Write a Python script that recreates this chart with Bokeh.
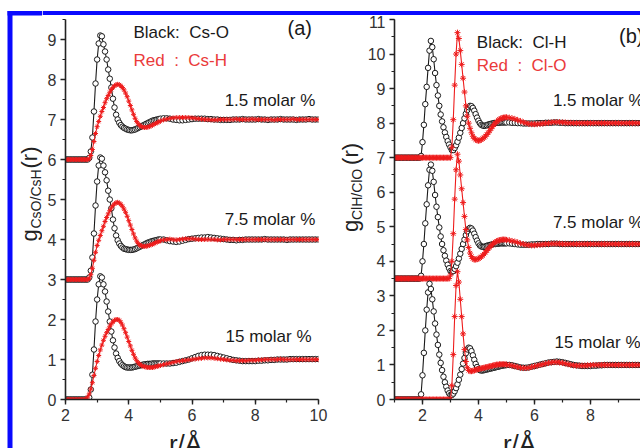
import math
import numpy as np
from bokeh.plotting import figure
from bokeh.layouts import row, column
from bokeh.models import Range1d, SingleIntervalTicker
from bokeh.core.properties import value
from bokeh.embed import file_html
from bokeh.resources import INLINE

FONT = "Liberation Sans"
RED = "#ee1c1c"
RED_TXT = "#ea3a3a"
BLACK = "#1a1a1a"
BLUE = "#0a0aff"

# sampling grids (r in Angstrom)
r_a = np.round(np.concatenate([np.arange(2.0, 5.0001, 0.05), np.arange(5.1, 10.0001, 0.1)]), 2)
r_b = np.round(np.concatenate([np.arange(1.0, 5.0001, 0.05), np.arange(5.1, 10.0001, 0.1)]), 2)

labels_conc = ["1.5 molar %", "7.5 molar %", "15 molar %"]
offsets_a = [6, 3, 0]
offsets_b = [7, 3.5, 0]

# ---------- panel (a): Cs-O (black) and Cs-H (red) ----------
cs_o_1p5 = [0, 0, 0, 0, 0, 0, 0, 0, 0, 0, 0, 0, 0, 0, 0,
            0.04, 0.2, 0.55, 1.2, 1.9, 2.5, 2.9, 3.1, 3.08, 2.88, 2.7, 2.5, 2.25, 2.02, 1.8,
            1.52, 1.3, 1.12, 1.0, 0.92, 0.86, 0.82, 0.79, 0.77, 0.75, 0.74, 0.73, 0.73, 0.74, 0.75,
            0.77, 0.79, 0.81, 0.83, 0.85, 0.87, 0.89, 0.91, 0.93, 0.95, 0.97, 0.98, 0.99, 1.0, 1.01,
            1.02,
            1.03, 1.03, 1.02, 1.0, 0.99, 0.98, 0.98, 0.99, 1.0, 1.01, 1.02, 1.02, 1.02, 1.02, 1.01,
            1.01, 1.0, 1.0, 0.99, 0.99, 0.99, 0.99, 1.0, 1.0, 1.0, 1.01, 1.0, 1.0, 1.0, 1.0,
            1.01, 1.0, 1.0, 0.99, 1.0, 1.0, 1.0, 1.01, 1.0, 1.0, 1.0, 1.0, 0.99, 1.0, 1.0,
            1.0, 1.01, 1.0, 1.0, 1.0]
cs_h_1p5 = [0, 0, 0, 0, 0, 0, 0, 0, 0, 0, 0, 0, 0, 0, 0,
            0.02, 0.1, 0.25, 0.45, 0.65, 0.82, 0.95, 1.08, 1.2, 1.3, 1.42, 1.52, 1.6, 1.68, 1.75,
            1.8, 1.84, 1.87, 1.88, 1.87, 1.84, 1.8, 1.74, 1.66, 1.57, 1.46, 1.35, 1.24, 1.13, 1.03,
            0.95, 0.89, 0.85, 0.82, 0.81, 0.8, 0.8, 0.81, 0.82, 0.84, 0.86, 0.88, 0.9, 0.92, 0.94,
            0.96,
            0.99, 1.01, 1.03, 1.04, 1.05, 1.05, 1.05, 1.05, 1.05, 1.04, 1.03, 1.02, 1.01, 1.0, 1.0,
            0.99, 0.99, 0.99, 1.0, 1.0, 1.0, 1.0, 1.0, 1.01, 1.0, 1.0, 1.0, 1.0, 1.01, 1.0,
            1.0, 1.0, 1.0, 1.0, 1.0, 0.99, 1.0, 1.0, 1.0, 1.0, 1.0, 1.01, 1.0, 1.0, 1.0,
            1.0, 1.0, 1.0, 1.0, 1.0]
cs_o_7p5 = [0, 0, 0, 0, 0, 0, 0, 0, 0, 0, 0, 0, 0, 0, 0,
            0.05, 0.22, 0.55, 1.15, 1.85, 2.45, 2.85, 3.05, 3.02, 2.85, 2.68, 2.48, 2.22, 2.0, 1.78,
            1.5, 1.28, 1.1, 0.98, 0.9, 0.84, 0.8, 0.77, 0.76, 0.75, 0.74, 0.74, 0.74, 0.75, 0.76,
            0.78, 0.8, 0.82, 0.84, 0.86, 0.88, 0.9, 0.92, 0.93, 0.95, 0.96, 0.97, 0.98, 0.99, 1.0,
            1.0,
            1.0, 0.98, 0.96, 0.95, 0.94, 0.95, 0.97, 0.99, 1.01, 1.02, 1.03, 1.04, 1.05, 1.05, 1.06,
            1.05, 1.04, 1.03, 1.02, 1.01, 1.0, 0.99, 0.99, 0.98, 0.99, 0.99, 1.0, 1.0, 1.0, 1.0,
            1.0, 1.0, 1.01, 1.0, 1.0, 1.0, 1.0, 1.0, 1.0, 0.99, 1.0, 1.0, 1.0, 1.0, 1.0,
            1.0, 1.0, 1.0, 1.0, 1.0]
cs_h_7p5 = [0, 0, 0, 0, 0, 0, 0, 0, 0, 0, 0, 0, 0, 0, 0,
            0.03, 0.12, 0.28, 0.48, 0.68, 0.85, 0.98, 1.1, 1.22, 1.33, 1.45, 1.55, 1.64, 1.72, 1.79,
            1.85, 1.89, 1.92, 1.93, 1.91, 1.88, 1.83, 1.76, 1.68, 1.58, 1.47, 1.36, 1.25, 1.14, 1.04,
            0.96, 0.9, 0.86, 0.84, 0.83, 0.83, 0.83, 0.84, 0.85, 0.87, 0.88, 0.9, 0.92, 0.94, 0.95,
            0.97,
            0.99, 1.0, 1.01, 1.0, 0.99, 1.0, 1.01, 1.02, 1.02, 1.02, 1.01, 1.0, 1.0, 1.0, 1.0,
            1.0, 1.0, 0.99, 0.99, 1.0, 1.0, 1.0, 1.0, 1.0, 1.0, 1.0, 1.0, 1.0, 1.0, 1.0,
            1.0, 1.0, 1.0, 1.0, 1.0, 1.0, 1.0, 1.0, 1.0, 1.0, 1.0, 1.0, 1.0, 1.0, 1.0,
            1.0, 1.0, 1.0, 1.0, 1.0]
cs_o_15 = [0, 0, 0, 0, 0, 0, 0, 0, 0, 0, 0, 0, 0, 0, 0,
           0.05, 0.25, 0.62, 1.25, 1.95, 2.5, 2.88, 3.08, 3.05, 2.88, 2.7, 2.45, 2.2, 1.95, 1.7,
           1.48, 1.3, 1.15, 1.04, 0.96, 0.9, 0.86, 0.83, 0.81, 0.8, 0.8, 0.8, 0.8, 0.81, 0.82,
           0.83, 0.84, 0.85, 0.86, 0.87, 0.88, 0.88, 0.89, 0.89, 0.89, 0.9, 0.9, 0.9, 0.9, 0.9,
           0.9,
           0.9, 0.9, 0.9, 0.91, 0.92, 0.94, 0.96, 0.98, 1.0, 1.03, 1.06, 1.09, 1.11, 1.12, 1.12,
           1.12, 1.11, 1.09, 1.07, 1.05, 1.03, 1.01, 0.99, 0.98, 0.97, 0.96, 0.96, 0.96, 0.96, 0.96,
           0.97, 0.97, 0.98, 0.98, 0.99, 0.99, 1.0, 1.0, 1.0, 1.0, 1.01, 1.01, 1.01, 1.01, 1.01,
           1.01, 1.01, 1.01, 1.01, 1.01]
cs_h_15 = [0, 0, 0, 0, 0, 0, 0, 0, 0, 0, 0, 0, 0,
           0.02, 0.06, 0.14, 0.26, 0.42, 0.6, 0.78, 0.95, 1.1, 1.24, 1.36, 1.48, 1.58, 1.67, 1.75,
           1.83, 1.89, 1.94, 1.98, 2.0, 2.0, 1.98, 1.93, 1.86, 1.77, 1.67, 1.56, 1.45, 1.34, 1.23,
           1.13, 1.04, 0.97, 0.92, 0.88, 0.85, 0.83, 0.82, 0.81, 0.8, 0.8, 0.8, 0.8, 0.81, 0.82,
           0.83, 0.84, 0.85,
           0.87, 0.89, 0.91, 0.93, 0.95, 0.96, 0.97, 0.98, 0.99, 1.0, 1.01, 1.02, 1.03, 1.04, 1.04,
           1.04, 1.03, 1.02, 1.01, 1.0, 0.99, 0.98, 0.98, 0.97, 0.97, 0.97, 0.97, 0.98, 0.98, 0.98,
           0.99, 0.99, 1.0, 1.0, 1.0, 1.0, 1.0, 1.01, 1.0, 1.0, 1.0, 1.0, 1.0, 1.0, 1.0,
           1.0, 1.0, 1.0, 1.0, 1.0]

# ---------- panel (b): Cl-H (black) and Cl-O (red) ----------
cl_h_1p5 = [0, 0, 0, 0, 0, 0, 0, 0, 0, 0, 0, 0, 0, 0, 0, 0, 0, 0, 0,
            0.05, 0.45, 0.95, 1.55, 2.05, 2.6, 3.1, 3.38, 3.2, 2.85, 2.45, 2.1, 1.8, 1.5, 1.25,
            1.05, 0.88, 0.73, 0.6, 0.48, 0.38, 0.3, 0.22, 0.22, 0.28, 0.36, 0.46, 0.58, 0.72, 0.86,
            1.0, 1.14, 1.27, 1.38, 1.46, 1.5, 1.49, 1.44, 1.36, 1.26, 1.16, 1.07, 1.0, 0.95, 0.93,
            0.92, 0.93, 0.94, 0.96, 0.97, 0.98, 0.99, 1.0, 1.0, 1.01, 1.01, 1.01, 1.02, 1.02, 1.02,
            1.02, 1.02,
            1.02, 1.01, 1.01, 1.0, 1.0, 0.99, 0.99, 0.99, 0.99, 0.99, 1.0, 1.0, 1.0, 1.01, 1.01,
            1.01, 1.02, 1.02, 1.01, 1.01, 1.0, 1.0, 1.0, 1.0, 1.0, 1.0, 1.0, 1.0, 1.0, 1.0,
            1.0, 1.0, 1.0, 1.0, 1.0, 1.0, 1.0, 1.0, 1.0, 1.0, 1.0, 1.0, 1.0, 1.0, 1.0,
            1.0, 1.0, 1.0, 1.0, 1.0]
cl_o_1p5 = [0, 0, 0, 0, 0, 0, 0, 0, 0, 0, 0, 0, 0, 0, 0, 0, 0, 0, 0, 0,
            0, 0, 0, 0, 0, 0, 0, 0, 0, 0, 0, 0, 0, 0, 0, 0, 0, 0, 0, 0, 0,
            0.3, 1.1, 2.1, 3.0, 3.62, 3.45, 3.1, 2.7, 2.3, 1.9, 1.5, 1.2, 1.0, 0.85, 0.72,
            0.62, 0.56, 0.52, 0.5, 0.49, 0.5, 0.52, 0.55, 0.58, 0.62, 0.67, 0.72, 0.78, 0.84, 0.9,
            0.95, 1.0, 1.04, 1.08, 1.11, 1.13, 1.15, 1.16, 1.17, 1.17,
            1.16, 1.14, 1.12, 1.09, 1.06, 1.03, 1.0, 0.98, 0.97, 0.97, 0.97, 0.98, 0.99, 1.0, 1.01,
            1.02, 1.03, 1.03, 1.03, 1.02, 1.02, 1.01, 1.01, 1.0, 1.0, 1.0, 1.0, 1.0, 1.0, 1.0,
            1.0, 1.0, 1.0, 1.0, 1.0, 1.0, 1.0, 1.0, 1.0, 1.0, 1.0, 1.0, 1.0, 1.0, 1.0,
            1.0, 1.0, 1.0, 1.0, 1.0]
cl_h_7p5 = [0, 0, 0, 0, 0, 0, 0, 0, 0, 0, 0, 0, 0, 0, 0, 0, 0, 0, 0,
            0.08, 0.5, 1.0, 1.6, 2.15, 2.7, 3.15, 3.3, 3.12, 2.8, 2.42, 2.08, 1.78, 1.48, 1.22,
            1.0, 0.82, 0.66, 0.52, 0.4, 0.3, 0.22, 0.2, 0.22, 0.28, 0.36, 0.46, 0.58, 0.72, 0.86,
            1.0, 1.13, 1.26, 1.37, 1.44, 1.47, 1.45, 1.39, 1.3, 1.2, 1.1, 1.02, 0.96, 0.93, 0.92,
            0.92, 0.93, 0.95, 0.96, 0.97, 0.98, 0.99, 1.0, 1.0, 1.01, 1.01, 1.02, 1.02, 1.02, 1.02,
            1.02, 1.02,
            1.02, 1.01, 1.0, 0.99, 0.98, 0.98, 0.98, 0.98, 0.99, 0.99, 1.0, 1.0, 1.0, 1.0, 1.0,
            1.01, 1.01, 1.01, 1.0, 1.0, 1.0, 1.0, 1.0, 1.0, 1.0, 1.0, 1.0, 1.0, 1.0, 1.0,
            1.0, 1.0, 1.0, 1.0, 1.0, 1.0, 1.0, 1.0, 1.0, 1.0, 1.0, 1.0, 1.0, 1.0, 1.0,
            1.0, 1.0, 1.0, 1.0, 1.0]
cl_o_7p5 = [0, 0, 0, 0, 0, 0, 0, 0, 0, 0, 0, 0, 0, 0, 0, 0, 0, 0, 0, 0,
            0, 0, 0, 0, 0, 0, 0, 0, 0, 0, 0, 0, 0, 0, 0, 0, 0, 0, 0, 0,
            0.1, 0.5, 1.3, 2.3, 3.15, 3.6, 3.4, 3.0, 2.6, 2.2, 1.8, 1.42, 1.12, 0.9, 0.74,
            0.64, 0.58, 0.55, 0.55, 0.56, 0.58, 0.6, 0.63, 0.67, 0.71, 0.76, 0.81, 0.86, 0.91, 0.95,
            0.99, 1.03, 1.06, 1.08, 1.1, 1.11, 1.12, 1.13, 1.13, 1.13, 1.12,
            1.11, 1.09, 1.07, 1.05, 1.02, 1.0, 0.98, 0.97, 0.96, 0.96, 0.97, 0.98, 0.99, 1.0, 1.0,
            1.01, 1.01, 1.01, 1.01, 1.0, 1.0, 1.0, 1.0, 1.0, 1.0, 1.0, 1.0, 1.0, 1.0, 1.0,
            1.0, 1.0, 1.0, 1.0, 1.0, 1.0, 1.0, 1.0, 1.0, 1.0, 1.0, 1.0, 1.0, 1.0, 1.0,
            1.0, 1.0, 1.0, 1.0, 1.0]
cl_h_15 = [0, 0, 0, 0, 0, 0, 0, 0, 0, 0, 0, 0, 0, 0, 0, 0, 0, 0, 0,
           0.15, 0.7, 1.35, 2.0, 2.6, 3.1, 3.35, 3.2, 2.9, 2.55, 2.2, 1.88, 1.58, 1.3, 1.06,
           0.85, 0.66, 0.5, 0.37, 0.26, 0.18, 0.13, 0.13, 0.17, 0.24, 0.33, 0.44, 0.57, 0.72, 0.88,
           1.04, 1.2, 1.34, 1.45, 1.5, 1.48, 1.4, 1.28, 1.15, 1.03, 0.94, 0.88, 0.85, 0.84, 0.84,
           0.85, 0.86, 0.87, 0.88, 0.89, 0.9, 0.91, 0.92, 0.93, 0.94, 0.95, 0.96, 0.97, 0.98, 0.99,
           0.99, 1.0,
           1.0, 0.99, 0.97, 0.95, 0.93, 0.92, 0.92, 0.93, 0.95, 0.97, 0.99, 1.01, 1.03, 1.05, 1.07,
           1.08, 1.09, 1.1, 1.09, 1.08, 1.06, 1.04, 1.02, 1.0, 0.99, 0.98, 0.97, 0.97, 0.97, 0.97,
           0.98, 0.98, 0.99, 0.99, 1.0, 1.0, 1.0, 1.0, 1.0, 1.0, 1.0, 1.0, 1.0, 1.0, 1.0,
           1.0, 1.0, 1.0, 1.0, 1.0]
cl_o_15 = [0, 0, 0, 0, 0, 0, 0, 0, 0, 0, 0, 0, 0, 0, 0, 0, 0, 0, 0, 0,
           0, 0, 0, 0, 0, 0, 0, 0, 0, 0, 0, 0, 0, 0, 0, 0, 0, 0, 0, 0, 0,
           0.4, 1.3, 2.4, 3.3, 3.7, 3.4, 2.9, 2.4, 1.9, 1.45, 1.1, 0.92, 0.84, 0.82, 0.82,
           0.83, 0.84, 0.86, 0.87, 0.88, 0.89, 0.9, 0.91, 0.92, 0.93, 0.94, 0.95, 0.96, 0.97, 0.98,
           0.99, 1.0, 1.01, 1.01, 1.02, 1.02, 1.02, 1.02, 1.02, 1.01,
           1.0, 0.98, 0.96, 0.94, 0.92, 0.91, 0.91, 0.92, 0.94, 0.96, 0.98, 1.0, 1.02, 1.04, 1.06,
           1.07, 1.08, 1.08, 1.07, 1.06, 1.04, 1.02, 1.0, 0.99, 0.98, 0.98, 0.98, 0.98, 0.99, 0.99,
           1.0, 1.0, 1.0, 1.0, 1.0, 1.0, 1.0, 1.0, 1.0, 1.0, 1.0, 1.0, 1.0, 1.0, 1.0,
           1.0, 1.0, 1.0, 1.0, 1.0]

black_a = [cs_o_1p5, cs_o_7p5, cs_o_15]
red_a = [cs_h_1p5, cs_h_7p5, cs_h_15]
black_b = [cl_h_1p5, cl_h_7p5, cl_h_15]
red_b = [cl_o_1p5, cl_o_7p5, cl_o_15]

ROW_H = 413  # height of the plotting row (page y 15 .. 428)
LEFT_W = 42  # width of the left strip (blue line + y title of panel a)


def make_panel(width, x_range, y_range, left, right):
    p = figure(width=width, height=ROW_H, x_range=Range1d(*x_range), y_range=Range1d(*y_range),
               output_backend="svg", toolbar_location=None,
               min_border_left=left, min_border_right=right,
               min_border_top=4, min_border_bottom=29)
    p.xgrid.visible = False
    p.ygrid.visible = False
    p.outline_line_color = None
    p.xaxis.ticker = SingleIntervalTicker(interval=2, num_minor_ticks=2)
    p.yaxis.ticker = SingleIntervalTicker(interval=1, num_minor_ticks=2)
    for ax in (p.xaxis[0], p.yaxis[0]):
        ax.axis_line_color = "#222222"
        ax.axis_line_width = 1.6
        ax.major_tick_line_color = "#222222"
        ax.minor_tick_line_color = "#222222"
        ax.major_tick_line_width = 1.4
        ax.minor_tick_line_width = 1.2
        ax.major_tick_out = 5
        ax.major_tick_in = 0
        ax.minor_tick_out = 3
        ax.minor_tick_in = 0
        ax.major_label_text_font = FONT
        ax.major_label_text_font_size = "16px"
        ax.major_label_text_color = "#333333"
        ax.major_label_standoff = 4
    return p


def helper(width, height):
    # plain canvas whose data units equal pixels (y downwards), for border and axis titles
    f = figure(width=width, height=height, x_range=Range1d(0, width), y_range=Range1d(height, 0),
               output_backend="svg", toolbar_location=None, x_axis_type=None, y_axis_type=None,
               min_border=0, min_border_left=0, min_border_right=0, min_border_top=0,
               min_border_bottom=0)
    f.outline_line_color = None
    f.grid.visible = False
    return f


def draw_curves(p, r, blacks, reds, offsets, red_size):
    for blk, rd, off in zip(blacks, reds, offsets):
        yb = np.array(blk, dtype=float) + off
        yr = np.array(rd, dtype=float) + off
        p.line(r, yb, line_color=BLACK, line_width=1.1)
        p.scatter(r, yb, marker="circle", size=5.5, line_color=BLACK, fill_color="white",
                  line_width=1)
        p.line(r, yr, line_color=RED, line_width=1.1)
        p.scatter(r, yr, marker="asterisk", size=red_size, line_color=RED, line_width=1)


def txt(p, x, y, s, color="#1a1a1a", size="17px", align="left"):
    p.text(x=[x], y=[y], text=[s], text_color=color, text_font=value(FONT),
           text_font_size=size, text_align=align, text_baseline="middle")


def ylabel(f, xb, y0, sub):
    f.text(x=[xb], y=[y0], text=["g"], angle=math.pi / 2, text_font=value(FONT),
           text_font_size="22px", text_color="#222222", text_align="left",
           text_baseline="alphabetic")
    f.text(x=[xb + 6], y=[y0 - 13], text=[sub], angle=math.pi / 2, text_font=value(FONT),
           text_font_size="14px", text_color="#222222", text_align="left",
           text_baseline="alphabetic")
    f.text(x=[xb], y=[y0 - 73], text=["(r)"], angle=math.pi / 2, text_font=value(FONT),
           text_font_size="22px", text_color="#222222", text_align="left",
           text_baseline="alphabetic")


# ---------- full-height left strip: blue frame lines + y title of panel a ----------
left = helper(LEFT_W, 448)
left.quad(left=[7], right=[12], top=[10.5], bottom=[448], fill_color=BLUE, line_color=None)
left.quad(left=[7], right=[LEFT_W], top=[10.5], bottom=[15], fill_color=BLUE, line_color=None)
ylabel(left, 29, 241, "CsO/CsH")

# ---------- top strip with the blue frame line ----------
top = helper(640 - LEFT_W, 15)
top.quad(left=[0], right=[640 - LEFT_W], top=[10.5], bottom=[15], fill_color=BLUE,
         line_color=None)

# ---------- panel (a) ----------
pa = make_panel(330 - LEFT_W, (2, 10), (0, 9.5), 65 - LEFT_W, 12)
draw_curves(pa, r_a, black_a, red_a, offsets_a, 5)
txt(pa, 4.15, 9.175, "Black:\u00a0\u00a0Cs-O")
txt(pa, 4.15, 8.475, "Red\u00a0\u00a0:\u00a0\u00a0Cs-H", color=RED_TXT)
txt(pa, 9.02, 9.3, "(a)", size="20px")
txt(pa, 9.9, 7.475, labels_conc[0], align="right")
txt(pa, 9.9, 4.5, labels_conc[1], align="right")
txt(pa, 9.78, 1.575, labels_conc[2], align="right")

# ---------- strip between the panels (y title of panel b) ----------
lab_b = helper(34, ROW_H)
ylabel(lab_b, 20, 231, "ClH/ClO")

# ---------- panel (b) ----------
pb = make_panel(276, (1, 1 + 249.0 / 28.33), (0, 11), 27, 0)
draw_curves(pb, r_b, black_b, red_b, offsets_b, 6)
txt(pb, 3.94, 10.33, "Black:\u00a0\u00a0Cl-H")
txt(pb, 3.94, 9.66, "Red\u00a0\u00a0:\u00a0\u00a0Cl-O", color=RED_TXT)
txt(pb, 9.02, 10.53, "(b)", size="20px")
txt(pb, 6.66, 8.65, labels_conc[0])
txt(pb, 6.66, 5.12, labels_conc[1])
txt(pb, 6.72, 1.65, labels_conc[2])

# ---------- bottom strip: x titles ----------
bottom = helper(640 - LEFT_W, 20)
bottom.text(x=[185 - LEFT_W, 519 - LEFT_W], y=[0, 0], text=["r/Å", "r/Å"],
            text_font=value(FONT), text_font_size="26px", text_color="#222222",
            text_align="center", text_baseline="top")

layout = row(left, column(top, row(pa, lab_b, pb), bottom))
open("out.html", "w").write(file_html(layout, INLINE))
